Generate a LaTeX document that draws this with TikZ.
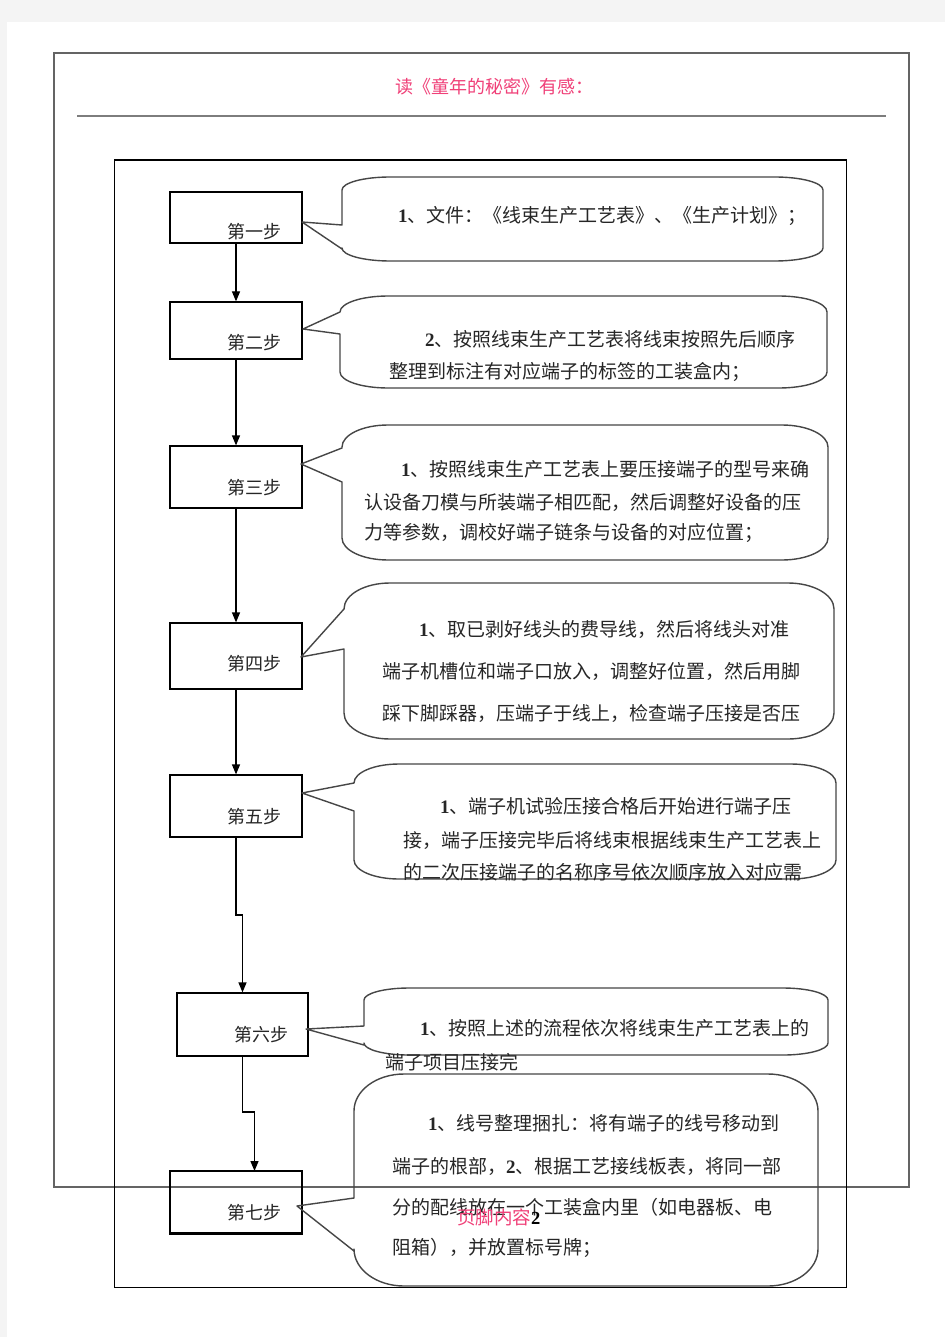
\documentclass[tikz,border=0pt]{standalone}
\usepackage{fontspec}
\setmainfont{Liberation Serif}
\newfontfamily\cjk{Noto Sans CJK SC}
\usetikzlibrary{arrows.meta}
\definecolor{pinkt}{RGB}{240,64,120}
\definecolor{pagegray}{RGB}{244,244,244}
\definecolor{callgray}{RGB}{70,70,70}
\definecolor{framegray}{RGB}{100,100,100}
\definecolor{rulegray}{RGB}{125,125,125}
\newcommand\bnum[1]{{\rmfamily\bfseries #1}}
% #1 x1, #2 y1, #3 x2, #4 y2, #5 rx, #6 ry, #7 tip, #8 wedge top y, #9 wedge bottom y
\newcommand\callout[9]{%
  \draw[callline] (#1,#8) -- (#7) -- (#1,#9)
    -- ({#1},{#4-#6}) .. controls ({#1},{#4-0.448*#6}) and ({#1+0.448*#5},{#4}) .. ({#1+#5},{#4})
    -- ({#3-#5},{#4}) .. controls ({#3-0.448*#5},{#4}) and ({#3},{#4-0.448*#6}) .. ({#3},{#4-#6})
    -- ({#3},{#2+#6}) .. controls ({#3},{#2+0.448*#6}) and ({#3-0.448*#5},{#2}) .. ({#3-#5},{#2})
    -- ({#1+#5},{#2}) .. controls ({#1+0.448*#5},{#2}) and ({#1},{#2+0.448*#6}) .. ({#1},{#2+#6})
    -- cycle;}
\begin{document}
\begin{tikzpicture}[x=1pt,y=-1pt,
  stepbox/.style={draw=black, line width=1.2pt, minimum width=132pt, inner sep=0pt},
  steplabel/.style={inner sep=0pt, font=\cjk\fontsize{18}{18}\selectfont, text=black!85},
  ctext/.style={anchor=west, inner sep=0pt, font=\cjk\fontsize{19}{19}\selectfont, text=black!85},
  callline/.style={draw=callgray, line width=1.4pt, line join=round},
  arr/.style={-{Triangle[length=10pt,width=8pt]}, line width=1.2pt}]
\useasboundingbox (0,0) rectangle (945,1337);
\fill[pagegray] (0,0) rectangle (945,1337);
\fill[white] (7,22) rectangle (945,1337);

% page frame and header
\draw[framegray, line width=1.3pt] (54,1187) -- (54,53) -- (909,53) -- (909,1187) -- cycle;
\node[font=\cjk\fontsize{18}{18}\selectfont, text=pinkt, inner sep=0pt] (title) at (494,87) {读《童年的秘密》有感：};
\draw[rulegray, line width=2pt] (77,116) -- (886,116);

% inner frame
\draw[black, line width=1pt] (114,160) rectangle (846,1287);
\draw[black, line width=2.2pt] (114,160) -- (846,160);

% step boxes
\node[stepbox, minimum height=51pt] (s1) at (236,217.5) {};
\node[stepbox, minimum height=57pt] (s2) at (236,330.5) {};
\node[stepbox, minimum height=62pt] (s3) at (236,477) {};
\node[stepbox, minimum height=66pt] (s4) at (236,656) {};
\node[stepbox, minimum height=62pt] (s5) at (236,806) {};
\node[stepbox, minimum height=63pt, minimum width=131pt] (s6) at (242.5,1024.5) {};
\node[stepbox, minimum height=62pt] (s7) at (236,1202) {};
\draw[black, line width=2pt] (s7.south west) -- (s7.south east);

\node[steplabel] (l1) at (254,232) {第一步};
\node[steplabel] (l2) at (254,343) {第二步};
\node[steplabel] (l3) at (254,488) {第三步};
\node[steplabel] (l4) at (254,664) {第四步};
\node[steplabel] (l5) at (254,817) {第五步};
\node[steplabel] (l6) at (261,1035) {第六步};
\node[steplabel] (l7) at (254,1213) {第七步};

% arrows
\draw[arr] (s1.south) -- (s2.north);
\draw[arr] (s2.south) -- (s3.north);
\draw[arr] (s3.south) -- (s4.north);
\draw[arr] (s4.south) -- (s5.north);
\coordinate (j5) at (236,915);
\draw[arr] (s5.south) -- (j5) -| (s6.north);
\coordinate (j6) at (242.5,1112);
\coordinate (e7) at (254.5,1171);
\draw[arr] (s6.south) -- (j6) -| (e7);

% callouts
\coordinate (t1) at (302,222);
\coordinate (t2) at (303,329);
\coordinate (t3) at (301,464);
\coordinate (t4) at (301,657);
\coordinate (t5) at (302,793);
\coordinate (t6) at (306,1029);
\coordinate (t7) at (297,1206);
\callout{342}{177}{823}{261}{48}{13}{t1}{225}{249}
\callout{340}{296}{827}{388}{48}{16}{t2}{312}{334}
\callout{342}{425}{828}{560}{46}{22}{t3}{448}{482}
\callout{344}{583}{834}{739}{46}{26}{t4}{609}{649}
\callout{354}{764}{836}{879}{45}{19}{t5}{783}{811}
\callout{364}{988}{828}{1055}{45}{12}{t6}{1026}{1045}
\callout{354}{1074}{818}{1286}{50}{37}{t7}{1198}{1251}

% callout texts
\node[ctext] (c1a) at (398,216) {\bnum{1}、文件：《线束生产工艺表》、《生产计划》；};
\node[ctext] (c2a) at (425,339) {\bnum{2}、按照线束生产工艺表将线束按照先后顺序};
\node[ctext] (c2b) at (389,372) {整理到标注有对应端子的标签的工装盒内；};
\node[ctext] (c3a) at (401,469) {\bnum{1}、按照线束生产工艺表上要压接端子的型号来确};
\node[ctext] (c3b) at (364,502) {认设备刀模与所装端子相匹配，然后调整好设备的压};
\node[ctext] (c3c) at (364,533) {力等参数，调校好端子链条与设备的对应位置；};
\node[ctext] (c4a) at (419,629) {\bnum{1}、取已剥好线头的费导线，然后将线头对准};
\node[ctext] (c4b) at (382,671) {端子机槽位和端子口放入，调整好位置，然后用脚};
\node[ctext] (c4c) at (382,713) {踩下脚踩器，压端子于线上，检查端子压接是否压};
\node[ctext] (c5a) at (440,806) {\bnum{1}、端子机试验压接合格后开始进行端子压};
\node[ctext] (c5b) at (403,840) {接，端子压接完毕后将线束根据线束生产工艺表上};
\node[ctext] (c5c) at (403,872) {的二次压接端子的名称序号依次顺序放入对应需};
\node[ctext] (c6a) at (420,1028) {\bnum{1}、按照上述的流程依次将线束生产工艺表上的};
\node[ctext] (c6b) at (385,1062) {端子项目压接完};
\node[ctext] (c7a) at (428,1123) {\bnum{1}、线号整理捆扎：将有端子的线号移动到};
\node[ctext] (c7b) at (392,1166) {端子的根部，\bnum{2}、根据工艺接线板表，将同一部};
\node[ctext] (c7c) at (392,1207) {分的配线放在一个工装盒内里（如电器板、电};
\node[ctext] (c7d) at (392,1248) {阻箱），并放置标号牌；};

% footer
\node[anchor=west, inner sep=0pt, font=\cjk\fontsize{18.5}{18.5}\selectfont, text=pinkt] (foot) at (457,1217) {页脚内容\textcolor{black}{\bnum{2}}};
\end{tikzpicture}
\end{document}
